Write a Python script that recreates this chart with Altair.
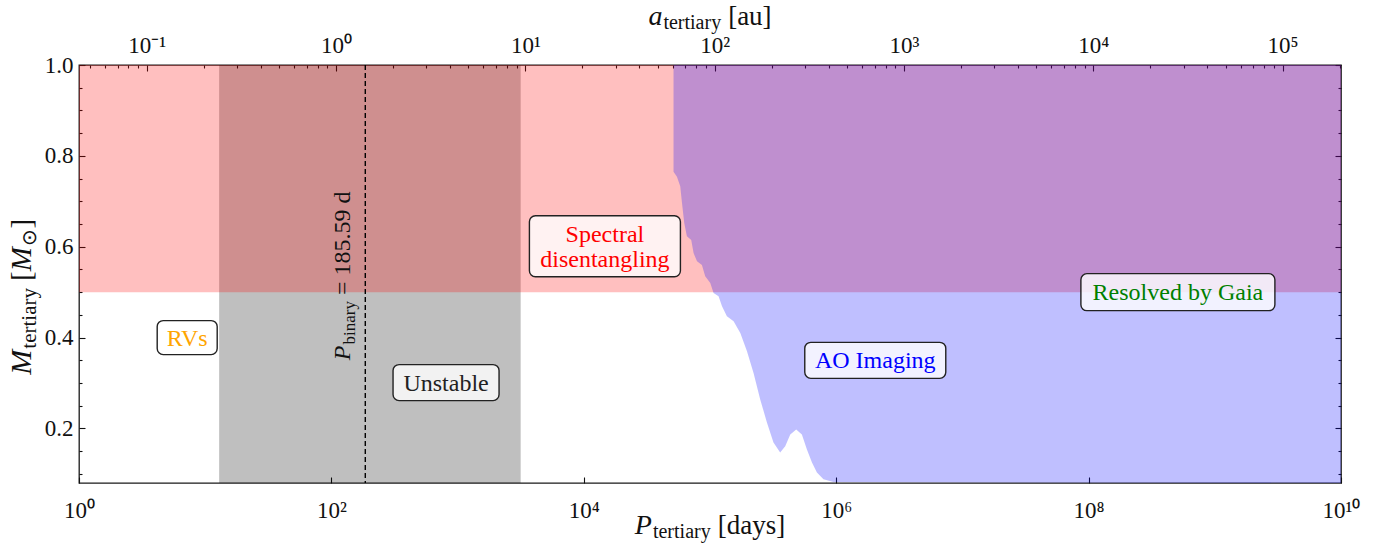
import altair as alt
import pandas as pd

SERIF = "Liberation Serif"
INK = "#111111"

# ---- plot ranges -------------------------------------------------------
P_MIN, P_MAX = 1.0, 1e10          # tertiary period [days]
M_MIN, M_MAX = 0.08, 1.0          # tertiary mass [M_sun]

P_BINARY = 185.59                 # inner binary period [days]
P_AT_1AU = 109.0                  # tertiary period at a = 1 au [days]

# dynamically unstable tertiary periods [days]
UNSTABLE_P = [12.9, 3160.0]
# tertiaries above this mass would show up in spectral disentangling
SPECTRAL_M = 0.5

# AO imaging detection limit: minimum detectable mass vs. period
AO_P = [51400, 54700, 58100, 60000, 62500, 65600, 71000, 74100, 78900, 86300,
        91600, 100500, 106700, 116900, 124500, 136100, 153800, 173800, 196300,
        221300, 250000, 282500, 318400, 359700, 394500, 432500, 481900, 534600,
        586100, 642700, 703100, 792500, 950600, 1e10]
AO_M = [0.765, 0.754, 0.733, 0.696, 0.652, 0.623, 0.615, 0.586, 0.568, 0.560,
        0.535, 0.520, 0.498, 0.491, 0.469, 0.447, 0.436, 0.410, 0.370, 0.322,
        0.264, 0.213, 0.169, 0.147, 0.161, 0.187, 0.198, 0.187, 0.154, 0.125,
        0.103, 0.088, 0.082, 0.080]

# ---- boxed annotations ---------------------------------------------------
NOTE_TEXT = ["RVs", "Unstable", "Spectral\ndisentangling", "AO Imaging",
             "Resolved by Gaia"]
NOTE_P = [7.2, 810.0, 14700.0, 2.04e6, 5.1e8]
NOTE_M = [0.400, 0.301, 0.601, 0.350, 0.500]
NOTE_COLOR = ["orange", "#222222", "red", "blue", "green"]
NOTE_BOX_W = [60, 106, 151, 141, 194]
NOTE_BOX_H = [34, 36, 61, 36, 37]
NOTE_LINE_H = 25

# ---- axis ticks ----------------------------------------------------------
P_LABEL_EXP = [0, 2, 4, 6, 8, 10]
A_LABEL_EXP = [-1, 0, 1, 2, 3, 4, 5]
M_MAJOR = [0.2, 0.4, 0.6, 0.8, 1.0]
M_MINOR = [0.1, 0.15, 0.25, 0.3, 0.35, 0.45, 0.5, 0.55, 0.65, 0.7, 0.75,
           0.85, 0.9, 0.95]

SUP = dict(zip("0123456789-", "⁰¹²³⁴⁵⁶⁷⁸⁹⁻"))


def power_label(k):
    return "10" + "".join(SUP[c] for c in str(k))


def decade_expr(k_expr, exps):
    parts = [f"{k_expr} == {k} ? '{power_label(k)}'" for k in exps]
    return " : ".join(parts) + " : ''"


def p_of_a(a):
    # Kepler's third law relative to the 1 au period
    return P_AT_1AU * a ** 1.5


P_TICKS = [10.0 ** k for k in P_LABEL_EXP]
A_MAJOR = [p_of_a(10.0 ** k) for k in A_LABEL_EXP]
A_MINOR = [p_of_a(m * 10.0 ** k) for k in range(-2, 6) for m in range(2, 10)
           if P_MIN <= p_of_a(m * 10.0 ** k) <= P_MAX]

xs = alt.Scale(type="log", domain=[P_MIN, P_MAX], nice=False)
ys = alt.Scale(domain=[M_MIN, M_MAX], zero=False, nice=False)

# ---- shaded regions ------------------------------------------------------
unstable_df = pd.DataFrame({"p0": [UNSTABLE_P[0]], "p1": [UNSTABLE_P[1]],
                            "m0": [M_MIN], "m1": [M_MAX]})
spectral_df = pd.DataFrame({"p0": [P_MIN], "p1": [P_MAX],
                            "m0": [SPECTRAL_M], "m1": [M_MAX]})
ao_df = pd.DataFrame({"p": AO_P, "m": AO_M, "top": [M_MAX] * len(AO_P)})


def band(df, color):
    return alt.Chart(df).mark_rect(color=color, opacity=0.25, strokeWidth=0).encode(
        x=alt.X("p0:Q", scale=xs, axis=None), x2="p1",
        y=alt.Y("m0:Q", scale=ys, axis=None), y2="m1")


unstable = band(unstable_df, "black")
spectral = band(spectral_df, "red")
ao = alt.Chart(ao_df).mark_area(color="blue", opacity=0.25).encode(
    x=alt.X("p:Q", scale=xs, axis=None),
    y=alt.Y("m:Q", scale=ys, axis=None), y2="top")

binary_rule = alt.Chart(pd.DataFrame({"p": [P_BINARY]})).mark_rule(
    color="black", strokeDash=[5, 3], strokeWidth=1.4).encode(
    x=alt.X("p:Q", scale=xs, axis=None))

# ---- boxes and their labels -----------------------------------------------
notes_df = pd.DataFrame({"p": NOTE_P, "m": NOTE_M, "t": NOTE_TEXT, "c": NOTE_COLOR,
                         "lines": [t.count("\n") + 1 for t in NOTE_TEXT]})
boxes = []
for i in range(len(NOTE_TEXT)):
    boxes.append(
        alt.Chart(notes_df.iloc[[i]]).mark_rect(
            width=NOTE_BOX_W[i], height=NOTE_BOX_H[i], cornerRadius=6,
            fill="white", fillOpacity=0.8, stroke="#222222", strokeWidth=1.4
        ).encode(x=alt.X("p:Q", scale=xs, axis=None),
                 y=alt.Y("m:Q", scale=ys, axis=None)))

note_texts = []
for n_lines in sorted(set(notes_df["lines"])):
    sub = notes_df[notes_df["lines"] == n_lines]
    note_texts.append(alt.Chart(sub).mark_text(
        font=SERIF, fontSize=24, lineBreak="\n", lineHeight=NOTE_LINE_H,
        align="center", baseline="middle", dy=1 - (n_lines - 1) * NOTE_LINE_H / 2
    ).encode(
        x=alt.X("p:Q", scale=xs, axis=None),
        y=alt.Y("m:Q", scale=ys, axis=None),
        text="t:N", color=alt.Color("c:N", scale=None)))

# ---- text with sub-scripts, assembled piece by piece ----------------------
TIMES = {" ": 250, "[": 333, "]": 333, "=": 564, ".": 250, "a": 444, "b": 500,
         "d": 500, "e": 444, "i": 278, "n": 500, "r": 333, "s": 389, "t": 278,
         "u": 500, "y": 500, "⊙": 838}
TIMES.update({c: 500 for c in "0123456789"})
TIMES_IT = {"P": 611, "M": 833, "a": 500}


def width_of(s, size, italic):
    table = TIMES_IT if italic else TIMES
    return sum(table.get(c, TIMES.get(c, 500)) for c in s) * size / 1000.0


def composed(pieces, p, m, angle, base_dy, centre=True):
    total = sum(width_of(t, s, it) + gap for t, s, it, sh, gap in pieces)
    dx = -total / 2.0 if centre else 0.0
    df = pd.DataFrame({"p": [p], "m": [m]})
    out = []
    for t, size, italic, shift, gap in pieces:
        out.append(alt.Chart(df).mark_text(
            text=t, font=SERIF, fontSize=size,
            fontStyle="italic" if italic else "normal",
            align="left", baseline="alphabetic", angle=angle,
            dx=dx, dy=base_dy + shift, color=INK).encode(
            x=alt.X("p:Q", scale=xs, axis=None),
            y=alt.Y("m:Q", scale=ys, axis=None)))
        dx += width_of(t, size, italic) + gap
    return out


P_CENTRE = 1e5
x_title = composed([("P", 28, True, 0, 1), ("tertiary", 20, False, 4, 7),
                    ("[days]", 27, False, 0, 0)],
                   P_CENTRE, M_MIN, 0, 51)
a_title = composed([("a", 28, True, 0, 1), ("tertiary", 20, False, 4, 7),
                    ("[au]", 27, False, 0, 0)],
                   P_CENTRE, M_MAX, 0, -40)
y_title = composed([("M", 30, True, 0, 1), ("tertiary", 21, False, 5, 7),
                    ("[", 29, False, 0, 0), ("M", 29, True, 0, 1),
                    ("⊙", 20, False, 5, 1), ("]", 29, False, 0, 0)],
                   P_MIN, 0.49, 270, -48)
binary_label = composed([("P", 24, True, 0, 1), ("binary", 17, False, 5, 6),
                         ("= 185.59 d", 24, False, 0, 0)],
                        P_BINARY, 0.536, 270, -15)

# ---- axes: labels and inward ticks on all four sides ----------------------
anchor = pd.DataFrame({"p": [P_BINARY], "m": [0.5]})


def x_axis(axis):
    return alt.Chart(anchor).mark_point(opacity=0).encode(
        x=alt.X("p:Q", scale=xs, axis=axis),
        y=alt.Y("m:Q", scale=ys, axis=None))


def y_axis(axis):
    return alt.Chart(anchor).mark_point(opacity=0).encode(
        x=alt.X("p:Q", scale=xs, axis=None),
        y=alt.Y("m:Q", scale=ys, axis=axis))


label_style = dict(labelFont=SERIF, labelFontSize=23, labelColor=INK,
                   ticks=False, domain=False, grid=False, title=None,
                   labelFlush=False, labelOverlap=False)


def ticks(orient, values, size):
    return alt.Axis(orient=orient, values=values, labels=False, domain=False,
                    grid=False, ticks=True, tickSize=size, offset=-size,
                    tickColor=INK, tickWidth=1.1, title=None)


axes = [
    x_axis(alt.Axis(orient="bottom", values=P_TICKS, labelPadding=16,
                    labelExpr=decade_expr("round(log(datum.value) / LN10)", P_LABEL_EXP),
                    **label_style)),
    x_axis(ticks("bottom", P_TICKS, 6)),
    x_axis(alt.Axis(orient="top", values=A_MAJOR, labelPadding=8,
                    labelExpr=decade_expr(
                        f"round(log(datum.value / {P_AT_1AU}) / LN10 / 1.5)", A_LABEL_EXP),
                    **label_style)),
    x_axis(ticks("top", A_MAJOR, 6)),
    x_axis(ticks("top", A_MINOR, 3)),
    y_axis(alt.Axis(orient="left", values=M_MAJOR, format=".1f", labelPadding=6,
                    **label_style)),
    y_axis(ticks("left", M_MAJOR, 6)),
    y_axis(ticks("left", M_MINOR, 3)),
    y_axis(ticks("right", M_MAJOR, 6)),
    y_axis(ticks("right", M_MINOR, 3)),
]

layers = ([unstable, spectral, ao, binary_rule] + boxes + note_texts
          + x_title + a_title + y_title + binary_label + axes)

chart = alt.layer(*layers).resolve_axis(
    x="independent", y="independent"
).properties(
    width=1262, height=418,
    padding={"left": 79, "top": 65, "right": 44, "bottom": 61},
    autosize=alt.AutoSizeParams(type="none"),
).configure_view(stroke="#1a1a1a", strokeWidth=1.3)

chart.save("out.html", embed_options={"renderer": "svg", "actions": False})
